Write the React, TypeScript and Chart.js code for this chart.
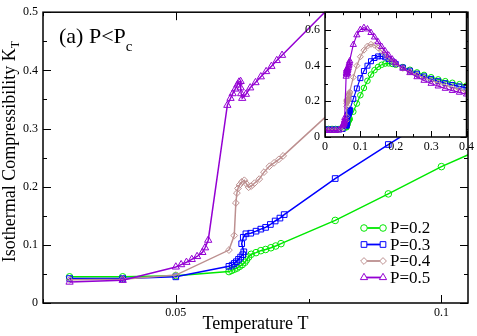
import React, { useEffect, useRef } from "react";
import { Chart, registerables } from "chart.js";
Chart.register(...registerables);

const FONT = "'Liberation Serif', 'Times New Roman', serif";

const seriesLabels = ["P=0.2", "P=0.3", "P=0.4", "P=0.5"];
const seriesColors = ["#00e800", "#0000ff", "#bc8f8f", "#9400d3"];
const seriesStyles = ["circle", "rect", "rectRot", "triangle"];

// Main panel data (T, K_T)
const T02 = [0.03, 0.04, 0.05, 0.06, 0.0605, 0.061, 0.0615, 0.062, 0.0625, 0.063, 0.0633, 0.0637, 0.0642, 0.0651, 0.066, 0.0669, 0.0679, 0.0688, 0.0698, 0.08, 0.09, 0.1, 0.11];
const K02 = [0.045, 0.045, 0.047, 0.054, 0.056, 0.058, 0.06, 0.063, 0.066, 0.07, 0.074, 0.079, 0.0838, 0.0866, 0.09, 0.092, 0.095, 0.098, 0.102, 0.142, 0.1876, 0.2345, 0.275];
const T03 = [0.03, 0.04, 0.05, 0.06, 0.0606, 0.061, 0.0614, 0.0618, 0.0622, 0.0626, 0.0628, 0.0624, 0.0627, 0.0632, 0.0641, 0.0651, 0.066, 0.0669, 0.0678, 0.0687, 0.0696, 0.0704, 0.08, 0.09, 0.1];
const K03 = [0.042, 0.042, 0.045, 0.063, 0.065, 0.068, 0.071, 0.075, 0.079, 0.083, 0.088, 0.102, 0.113, 0.119, 0.12, 0.1235, 0.127, 0.13, 0.135, 0.141, 0.146, 0.152, 0.214, 0.2725, 0.33];
const T04 = [0.03, 0.04, 0.05, 0.06, 0.061, 0.0613, 0.0615, 0.0617, 0.062, 0.0624, 0.0629, 0.0633, 0.0637, 0.0642, 0.0648, 0.0657, 0.0666, 0.0676, 0.0685, 0.0694, 0.0702, 0.08];
const K04 = [0.04, 0.041, 0.048, 0.091, 0.116, 0.172, 0.189, 0.197, 0.203, 0.208, 0.211, 0.205, 0.199, 0.201, 0.206, 0.213, 0.225, 0.235, 0.241, 0.247, 0.253, 0.335];
const T05 = [0.03, 0.04, 0.05, 0.051, 0.052, 0.053, 0.054, 0.055, 0.0555, 0.0561, 0.0597, 0.0603, 0.0607, 0.0612, 0.0616, 0.0619, 0.0622, 0.0622, 0.0623, 0.0625, 0.0632, 0.064, 0.065, 0.066, 0.067, 0.068, 0.069, 0.07, 0.08];
const K05 = [0.036, 0.039, 0.062, 0.066, 0.07, 0.075, 0.08, 0.087, 0.095, 0.108, 0.34, 0.352, 0.36, 0.368, 0.375, 0.38, 0.381, 0.37, 0.36, 0.352, 0.359, 0.37, 0.379, 0.389, 0.398, 0.407, 0.417, 0.426, 0.518];

// Inset extra data: low-T start and high-T tails
const lowT = [0, 0.01, 0.02];
const lowK02 = [0.045, 0.045, 0.045];
const lowK03 = [0.042, 0.042, 0.042];
const lowK04 = [0.04, 0.04, 0.04];
const lowK05 = [0.036, 0.036, 0.036];
const tailT02 = [0.12, 0.13, 0.14, 0.15, 0.16, 0.17, 0.18, 0.19, 0.2, 0.22, 0.24, 0.26, 0.28, 0.3, 0.32, 0.34, 0.36, 0.38, 0.4];
const tailK02 = [0.315, 0.35, 0.375, 0.393, 0.405, 0.412, 0.413, 0.41, 0.405, 0.392, 0.377, 0.362, 0.348, 0.335, 0.323, 0.313, 0.304, 0.296, 0.288];
const tailT03 = [0.11, 0.12, 0.13, 0.14, 0.15, 0.16, 0.17, 0.18, 0.19, 0.2, 0.22, 0.24, 0.26, 0.28, 0.3, 0.32, 0.34, 0.36, 0.38, 0.4];
const tailK03 = [0.37, 0.4, 0.425, 0.443, 0.452, 0.453, 0.447, 0.437, 0.424, 0.41, 0.39, 0.372, 0.355, 0.34, 0.326, 0.313, 0.302, 0.292, 0.284, 0.276];
const tailT04 = [0.09, 0.1, 0.11, 0.12, 0.13, 0.14, 0.15, 0.16, 0.17, 0.18, 0.19, 0.2, 0.22, 0.24, 0.26, 0.28, 0.3, 0.32, 0.34, 0.36, 0.38, 0.4];
const tailK04 = [0.4, 0.45, 0.487, 0.51, 0.52, 0.515, 0.5, 0.482, 0.462, 0.442, 0.424, 0.408, 0.385, 0.366, 0.348, 0.332, 0.317, 0.303, 0.29, 0.278, 0.266, 0.255];
const tailT05 = [0.09, 0.1, 0.11, 0.12, 0.13, 0.14, 0.15, 0.16, 0.17, 0.18, 0.19, 0.2, 0.22, 0.24, 0.26, 0.28, 0.3, 0.32, 0.34, 0.36, 0.38, 0.4];
const tailK05 = [0.572, 0.602, 0.613, 0.605, 0.585, 0.56, 0.533, 0.507, 0.482, 0.458, 0.436, 0.416, 0.385, 0.36, 0.337, 0.317, 0.3, 0.285, 0.272, 0.26, 0.25, 0.24];

// Ticks
const mainXTicks = [0.05, 0.1];
const mainXTickLabels = ["0.05", "0.1"];
const mainXMinor = [0.025, 0.075];
const mainYTicks = [0, 0.1, 0.2, 0.3, 0.4, 0.5];
const mainYTickLabels = ["0", "0.1", "0.2", "0.3", "0.4", "0.5"];
const mainYMinor = [0.05, 0.15, 0.25, 0.35, 0.45];
const insetXTicks = [0, 0.1, 0.2, 0.3, 0.4];
const insetXTickLabels = ["0", "0.1", "0.2", "0.3", "0.4"];
const insetXMinor = [0.05, 0.15, 0.25, 0.35];
const insetYTicks = [0, 0.2, 0.4, 0.6];
const insetYTickLabels = ["0", "0.2", "0.4", "0.6"];
const insetYMinor = [0.1, 0.3, 0.5];

const pts = (T: number[], K: number[]) => T.map((t, i) => ({ x: t, y: K[i] }));

const mainSeries = [pts(T02, K02), pts(T03, K03), pts(T04, K04), pts(T05, K05)];
const insetSeries = [
  [...pts(lowT, lowK02), ...pts(T02, K02), ...pts(tailT02, tailK02)],
  [...pts(lowT, lowK03), ...pts(T03, K03), ...pts(tailT03, tailK03)],
  [...pts(lowT, lowK04), ...pts(T04, K04), ...pts(tailT04, tailK04)],
  [...pts(lowT, lowK05), ...pts(T05, K05), ...pts(tailT05, tailK05)],
];

const mainRadius = [3.3, 4.0, 3.4, 4.2];
const insetRadius = [2.8, 3.5, 3.0, 3.6];

function drawMarker(ctx: CanvasRenderingContext2D, style: string, x: number, y: number, r: number) {
  ctx.beginPath();
  if (style === "circle") {
    ctx.arc(x, y, r, 0, Math.PI * 2);
  } else if (style === "rect") {
    const s = r * Math.SQRT1_2;
    ctx.rect(x - s, y - s, 2 * s, 2 * s);
  } else if (style === "rectRot") {
    ctx.moveTo(x, y - r);
    ctx.lineTo(x + r, y);
    ctx.lineTo(x, y + r);
    ctx.lineTo(x - r, y);
    ctx.closePath();
  } else {
    const a = (2 * Math.PI) / 3;
    ctx.moveTo(x, y - r);
    ctx.lineTo(x + Math.sin(a) * r, y - Math.cos(a) * r);
    ctx.lineTo(x + Math.sin(2 * a) * r, y - Math.cos(2 * a) * r);
    ctx.closePath();
  }
  ctx.fillStyle = "#fff";
  ctx.fill();
  ctx.stroke();
}

function framePlugin(id: string, cfg: any) {
  return {
    id,
    beforeDraw(chart: any) {
      if (!cfg.whiteBg) return;
      const { ctx, chartArea: a } = chart;
      ctx.save();
      ctx.fillStyle = "#fff";
      ctx.fillRect(a.left, a.top, a.right - a.left, a.bottom - a.top);
      ctx.restore();
    },
    afterDatasetsDraw(chart: any) {
      const { ctx, chartArea: a, scales } = chart;
      const xs = scales.x;
      const ys = scales.y;
      ctx.save();
      ctx.strokeStyle = "#000";
      ctx.lineWidth = 1;
      ctx.beginPath();
      const xt = (vals: number[], len: number) =>
        vals.forEach((v) => {
          const p = Math.round(xs.getPixelForValue(v)) + 0.5;
          ctx.moveTo(p, a.bottom);
          ctx.lineTo(p, a.bottom - len);
          ctx.moveTo(p, a.top);
          ctx.lineTo(p, a.top + len);
        });
      const yt = (vals: number[], len: number) =>
        vals.forEach((v) => {
          const p = Math.round(ys.getPixelForValue(v)) + 0.5;
          ctx.moveTo(a.left, p);
          ctx.lineTo(a.left + len, p);
          ctx.moveTo(a.right, p);
          ctx.lineTo(a.right - len, p);
        });
      xt(cfg.xMajor, cfg.majorLen);
      xt(cfg.xMinor, cfg.minorLen);
      yt(cfg.yMajor, cfg.majorLen);
      yt(cfg.yMinor, cfg.minorLen);
      ctx.stroke();
      ctx.lineWidth = 1.5;
      ctx.strokeRect(a.left, a.top, a.right - a.left, a.bottom - a.top);
      ctx.restore();
    },
  };
}

const mainTextPlugin = {
  id: "mainText",
  afterDraw(chart: any) {
    const { ctx } = chart;
    ctx.save();
    ctx.fillStyle = "#000";
    // y-axis title with subscript
    const main = "Isothermal Compressibility K";
    ctx.font = `18px ${FONT}`;
    const w1 = ctx.measureText(main).width;
    ctx.font = `12px ${FONT}`;
    const w2 = ctx.measureText("T").width;
    const total = w1 + w2;
    ctx.translate(15, 151.5 + total / 2);
    ctx.rotate(-Math.PI / 2);
    ctx.textBaseline = "alphabetic";
    ctx.textAlign = "left";
    ctx.font = `18px ${FONT}`;
    ctx.fillText(main, 0, 0);
    ctx.font = `12px ${FONT}`;
    ctx.fillText("T", w1, 4);
    ctx.restore();

    // panel label
    ctx.save();
    ctx.fillStyle = "#000";
    ctx.textBaseline = "alphabetic";
    ctx.textAlign = "left";
    ctx.font = `22px ${FONT}`;
    const lab = "(a) P<P";
    ctx.fillText(lab, 59, 43);
    const lw = ctx.measureText(lab).width;
    ctx.font = `15px ${FONT}`;
    ctx.fillText("c", 59 + lw, 51);
    ctx.restore();

    // legend
    ctx.save();
    const rows = [228, 244.5, 261, 277.5];
    seriesLabels.forEach((lbl, i) => {
      ctx.strokeStyle = seriesColors[i];
      ctx.lineWidth = 1.8;
      ctx.beginPath();
      ctx.moveTo(364, rows[i]);
      ctx.lineTo(383, rows[i]);
      ctx.stroke();
      ctx.lineWidth = 1;
      drawMarker(ctx, seriesStyles[i], 364, rows[i], mainRadius[i]);
      drawMarker(ctx, seriesStyles[i], 383, rows[i], mainRadius[i]);
      ctx.fillStyle = "#000";
      ctx.font = `17px ${FONT}`;
      ctx.textBaseline = "middle";
      ctx.textAlign = "left";
      ctx.fillText(lbl, 390, rows[i] + 1);
    });
    ctx.restore();
  },
};

function makeDatasets(series: any[], radius: number[], lw: number) {
  return series.map((data, i) => ({
    label: seriesLabels[i],
    data,
    borderColor: seriesColors[i],
    backgroundColor: "rgba(255,255,255,0)",
    pointBorderColor: seriesColors[i],
    pointBackgroundColor: "rgba(255,255,255,0)",
    pointStyle: seriesStyles[i],
    pointRadius: radius[i],
    pointBorderWidth: 1,
    borderWidth: lw,
    tension: 0,
    order: 4 - i,
  }));
}

function axisFont(size: number) {
  return { family: FONT, size };
}

export default function App() {
  const mainRef = useRef<HTMLCanvasElement>(null);
  const insetRef = useRef<HTMLCanvasElement>(null);

  useEffect(() => {
    Chart.defaults.font.family = FONT;
    const main = new Chart(mainRef.current as HTMLCanvasElement, {
      type: "line",
      data: { datasets: makeDatasets(mainSeries, mainRadius, 1.5) as any },
      options: {
        animation: false,
        responsive: false,
        events: [],
        clip: 0 as any,
        layout: { padding: { top: 5, right: 9, left: 0, bottom: 0 } },
        plugins: { legend: { display: false }, tooltip: { enabled: false } },
        scales: {
          x: {
            type: "linear",
            min: 0.025,
            max: 0.105,
            grid: { display: false, drawTicks: false },
            border: { display: false },
            afterBuildTicks: (s: any) => {
              s.ticks = mainXTicks.map((v) => ({ value: v }));
            },
            afterFit: (s: any) => {
              s.height = 33;
            },
            ticks: {
              callback: (_v: any, i: number) => mainXTickLabels[i],
              font: axisFont(12),
              color: "#000",
              padding: 3,
              maxRotation: 0,
              autoSkip: false,
            },
            title: {
              display: true,
              text: "Temperature T",
              font: axisFont(18),
              color: "#000",
              padding: { top: 0, bottom: 1 },
            },
          },
          y: {
            type: "linear",
            min: 0,
            max: 0.5,
            grid: { display: false, drawTicks: false },
            border: { display: false },
            afterBuildTicks: (s: any) => {
              s.ticks = mainYTicks.map((v) => ({ value: v }));
            },
            afterFit: (s: any) => {
              s.width = 43;
            },
            ticks: {
              callback: (_v: any, i: number) => mainYTickLabels[i],
              font: axisFont(12),
              color: "#000",
              padding: 5,
              autoSkip: false,
            },
          },
        },
      } as any,
      plugins: [
        framePlugin("mainFrame", {
          whiteBg: false,
          xMajor: mainXTicks,
          xMinor: mainXMinor,
          yMajor: mainYTicks,
          yMinor: mainYMinor,
          majorLen: 8,
          minorLen: 4,
        }),
        mainTextPlugin,
      ],
    });

    const inset = new Chart(insetRef.current as HTMLCanvasElement, {
      type: "line",
      data: { datasets: makeDatasets(insetSeries, insetRadius, 1.2) as any },
      options: {
        animation: false,
        responsive: false,
        events: [],
        layout: { padding: { top: 5, right: 9, left: 0, bottom: 0 } },
        plugins: { legend: { display: false }, tooltip: { enabled: false } },
        scales: {
          x: {
            type: "linear",
            min: 0,
            max: 0.4,
            grid: { display: false, drawTicks: false },
            border: { display: false },
            afterBuildTicks: (s: any) => {
              s.ticks = insetXTicks.map((v) => ({ value: v }));
            },
            afterFit: (s: any) => {
              s.height = 23;
            },
            ticks: {
              callback: (_v: any, i: number) => insetXTickLabels[i],
              font: axisFont(12),
              color: "#000",
              padding: 3,
              maxRotation: 0,
              autoSkip: false,
            },
          },
          y: {
            type: "linear",
            min: 0,
            max: 0.7,
            grid: { display: false, drawTicks: false },
            border: { display: false },
            afterBuildTicks: (s: any) => {
              s.ticks = insetYTicks.map((v) => ({ value: v }));
            },
            afterFit: (s: any) => {
              s.width = 25;
            },
            ticks: {
              callback: (_v: any, i: number) => insetYTickLabels[i],
              font: axisFont(12),
              color: "#000",
              padding: 5,
              autoSkip: false,
            },
          },
        },
      } as any,
      plugins: [
        framePlugin("insetFrame", {
          whiteBg: true,
          xMajor: insetXTicks,
          xMinor: insetXMinor,
          yMajor: insetYTicks,
          yMinor: insetYMinor,
          majorLen: 6,
          minorLen: 3,
        }),
      ],
    });

    return () => {
      main.destroy();
      inset.destroy();
    };
  }, []);

  return (
    <div style={{ position: "absolute", left: 0, top: 0, width: 477, height: 336, background: "#fff" }}>
      <canvas
        ref={mainRef}
        width={477}
        height={336}
        style={{ position: "absolute", left: 0, top: 0, width: 477, height: 336 }}
      />
      <canvas
        ref={insetRef}
        width={177}
        height={160}
        style={{ position: "absolute", left: 300, top: 0, width: 177, height: 160 }}
      />
    </div>
  );
}
